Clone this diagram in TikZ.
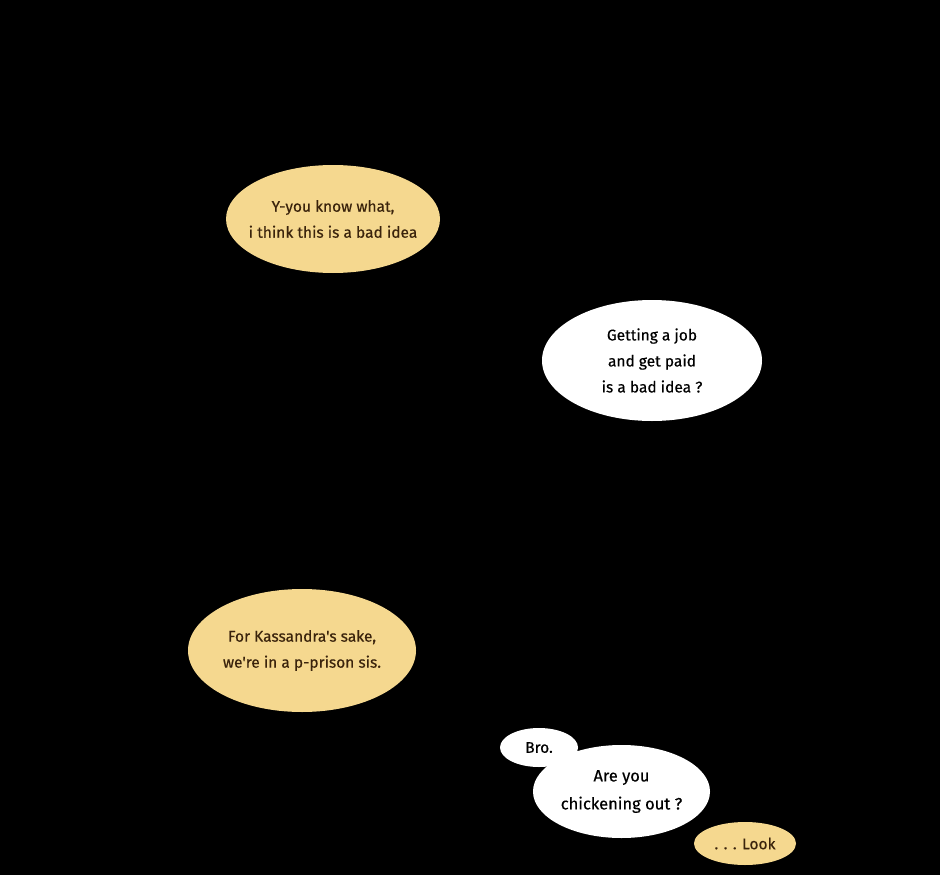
\documentclass[tikz,border=0pt]{standalone}
\usepackage{fontspec}
\setmainfont{Fira Sans}
\newfontfamily\bubfont{Fira Sans}[FakeBold=0.4]
\usetikzlibrary{shapes.geometric}
\definecolor{bubbleY}{HTML}{F5D88F}
\definecolor{textB}{HTML}{3A230C}
\tikzset{
  ybub/.style={ellipse, fill=bubbleY, draw=none, inner sep=0pt},
  wbub/.style={ellipse, fill=white, draw=none, inner sep=0pt},
  ytxt/.style={text=textB, align=center, font=\bubfont\fontsize{15.5}{26}\selectfont},
  wtxt/.style={text=black, align=center, font=\bubfont\fontsize{15.5}{26}\selectfont},
}
\begin{document}
\begin{tikzpicture}[x=1pt,y=-1pt]
\fill[black] (0,0) rectangle (940,875);
\useasboundingbox (0,0) rectangle (940,875);
\node[ybub, minimum width=214pt, minimum height=108pt] (b1) at (333,219) {};
\node[ytxt] (t1) at (b1) {Y-you know what,\\i think this is a bad idea};
\node[wbub, minimum width=220pt, minimum height=121pt] (b2) at (652,360.5) {};
\node[wtxt] (t2) at (b2) {Getting a job\\and get paid\\is a bad idea ?};
\node[ybub, minimum width=228pt, minimum height=123pt] (b3) at (302,650.5) {};
\node[ytxt] (t3) at (b3) {For Kassandra's sake,\\we're in a p-prison sis.};
\node[wbub, minimum width=78pt, minimum height=39pt] (b4) at (539,747.5) {};
\node[wbub, minimum width=177pt, minimum height=93pt] (b5) at (621.5,791.5) {};
\node[wtxt] (t4) at (b4) {Bro.};
\node[wtxt, font=\bubfont\fontsize{16.5}{28}\selectfont] (t5) at (b5) {Are you\\chickening out ?};
\node[ybub, minimum width=102pt, minimum height=43pt] (b6) at (745,843.5) {};
\node[ytxt] (t6) at (b6) {. . . Look};
\end{tikzpicture}
\end{document}
